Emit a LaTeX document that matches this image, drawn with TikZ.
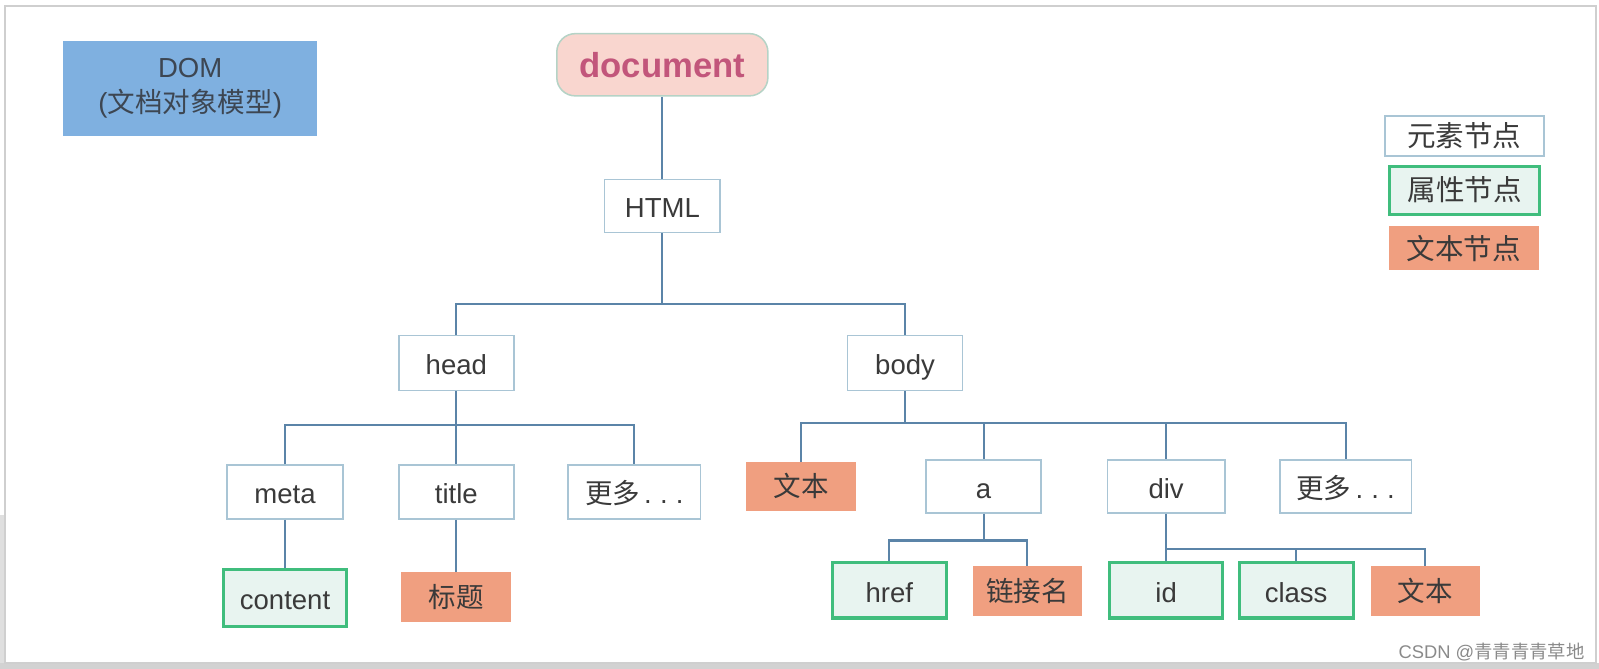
\documentclass[tikz,border=0pt]{standalone}
\usepackage{fontspec}
\setmainfont{Liberation Sans}
\newfontfamily\cjk{Noto Sans CJK SC}
\definecolor{domfill}{HTML}{7FB0E0}
\definecolor{domtext}{HTML}{3D4652}
\definecolor{docfill}{HTML}{F9D6CF}
\definecolor{docborder}{HTML}{B5D3C6}
\definecolor{doctext}{HTML}{C2567B}
\definecolor{elemborder}{HTML}{A9C5D5}
\definecolor{connblue}{HTML}{5B84A8}
\definecolor{attrborder}{HTML}{40BD7D}
\definecolor{attrfill}{HTML}{E8F4F0}
\definecolor{textfill}{HTML}{F09F80}
\definecolor{txt}{HTML}{3A3A3A}
\definecolor{framegray}{HTML}{CFCFCF}
\definecolor{markgray}{HTML}{8A8A8A}
\newcommand{\gengduo}{{\cjk 更多}\hspace{4pt}.\hspace{8pt}.\hspace{8pt}.\hspace{10pt}}
\begin{document}
\begin{tikzpicture}[x=1pt,y=-1pt,
  base/.style={inner sep=0pt, text=txt, font=\fontsize{27}{32}\selectfont,
               text height=23pt, text depth=0pt},
  elem/.style={base, draw=elemborder, line width=1.5pt, fill=white},
  attr/.style={base, draw=attrborder, line width=3pt, fill=attrfill},
  txtnode/.style={base, fill=textfill},
  cjkfont/.style={font=\cjk\fontsize{27}{32}\selectfont, text height=20pt, text depth=0pt},
  legfont/.style={font=\cjk\fontsize{28}{32}\selectfont, text height=21pt, text depth=0pt},
  conn/.style={draw=connblue, line width=2pt},
  sz/.style 2 args={minimum width=#1pt, minimum height=#2pt}]
\useasboundingbox (0,0) rectangle (1568,656);
% frame with shadow
\fill[gray!35] (0,650) rectangle (1568,656);
\fill[gray!25] (0,505) rectangle (4,650);
\draw[framegray, line width=1.5pt] (5,6) rectangle (1565,650);

% title box
\node[inner sep=0pt, fill=domfill, text=domtext, sz={249}{93}, align=center,
      font=\fontsize{27}{34}\selectfont] (dom) at (186.5,86.5)
      {DOM\\({\cjk 文档对象模型})};

% tree nodes
\node[inner sep=0pt, fill=docfill, draw=docborder, line width=1.5pt, rounded corners=18pt,
      sz={207}{61}, text=doctext, font=\bfseries\fontsize{34}{40}\selectfont]
      (doc) at (649.5,63.5) {document};
\node[elem, sz={113}{52}] (html) at (649.5,202) {HTML};
\node[elem, sz={113}{54}] (head) at (447.5,356) {head};
\node[elem, sz={113}{54}] (body) at (887.5,356) {body};
\node[elem, sz={114}{53}] (meta) at (279.5,482.5) {meta};
\node[elem, sz={113}{53}] (title) at (447.5,482.5) {title};
\node[elem, sz={130}{53}] (more1) at (622,482.5) {\gengduo};
\node[attr, sz={121}{56}] (content) at (279.5,586) {content};
\node[txtnode, cjkfont, sz={108}{49}] (biaoti) at (447.5,585.5) {标题};
\node[txtnode, cjkfont, sz={107}{48}] (wb1) at (785.5,477) {文本};
\node[elem, sz={113}{52}] (a) at (964.5,477) {a};
\node[elem, sz={115}{52}] (div) at (1143.5,477) {div};
\node[elem, sz={129}{52}] (more2) at (1319.5,477) {\gengduo};
\node[attr, sz={112}{54}] (href) at (872,579) {href};
\node[txtnode, cjkfont, sz={107}{49}] (link) at (1007.5,579.5) {链接名};
\node[attr, sz={111}{54}] (id) at (1143.5,579) {id};
\node[attr, sz={112}{54}] (class) at (1271,579) {class};
\node[txtnode, cjkfont, sz={107}{49}] (wb2) at (1397.5,579.5) {文本};

% legend
\node[elem, legfont, sz={156}{39}] (lg1) at (1436,133.5) {元素节点};
\node[attr, legfont, sz={147}{47}] (lg2) at (1436.5,186.5) {属性节点};
\node[txtnode, legfont, sz={147}{43}] (lg3) at (1435.5,243.5) {文本节点};

% watermark
\node[inner sep=0pt, anchor=east, text=markgray, font=\fontsize{18}{20}\selectfont]
  (mark) at (1554,639) {CSDN @{\cjk 青青青青草地}};

% junctions
\coordinate (j1) at (649.5,298);
\coordinate (j2) at (447.5,417);
\coordinate (j3) at (887.5,415);
\coordinate (j4) at (964.5,530);
\coordinate (j5) at (1143.5,538);

% connectors
\draw[conn] (doc.south) -- (html.north);
\draw[conn] (html.south) -- (j1);
\draw[conn] (head.north) |- (j1) -| (body.north);
\draw[conn] (head.south) -- (j2);
\draw[conn] (meta.north) |- (j2) -| (more1.north);
\draw[conn] (j2) -- (title.north);
\draw[conn] (meta.south) -- (content.north);
\draw[conn] (title.south) -- (biaoti.north);
\draw[conn] (body.south) -- (j3);
\draw[conn] (wb1.north) |- (j3) -| (more2.north);
\draw[conn] (j3 -| a.north) -- (a.north);
\draw[conn] (j3 -| div.north) -- (div.north);
\draw[conn] (a.south) -- (j4);
\draw[conn] (href.north) |- (j4) -| (link.north);
\draw[conn] (div.south) -- (id.north);
\draw[conn] (j5) -| (wb2.north);
\draw[conn] (j5 -| class.north) -- (class.north);
\end{tikzpicture}
\end{document}
